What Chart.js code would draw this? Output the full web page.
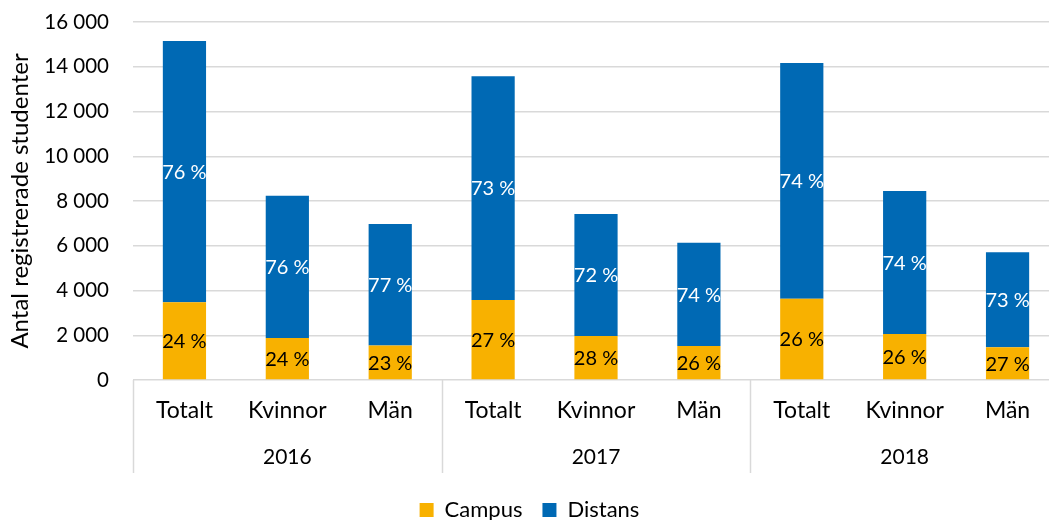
<!DOCTYPE html>
<html lang="sv">
<head>
<meta charset="utf-8">
<script src="https://cdn.jsdelivr.net/npm/chart.js@4/dist/chart.umd.min.js"></script>
<style>
  html, body { margin: 0; padding: 0; background: #fff; overflow: hidden; }
  #wrap { width: 1060px; height: 520px; position: relative; }
</style>
</head>
<body>
<div id="wrap"><canvas id="chart"></canvas></div>
<script>
// ── DATA ───────────────────────────────────────────────────────────────────

const categories = ['Totalt', 'Kvinnor', 'Män', 'Totalt', 'Kvinnor', 'Män', 'Totalt', 'Kvinnor', 'Män'];
const years      = ['2016', '2017', '2018'];

const campus  = [3480, 1880, 1540, 3580, 1970, 1520, 3630, 2060, 1460];
const distans = [11670, 6360, 5430, 10000, 5450, 4615, 10535, 6390, 4255];

const campusPct  = ['24 %', '24 %', '23 %', '27 %', '28 %', '26 %', '26 %', '26 %', '27 %'];
const distansPct = ['76 %', '76 %', '77 %', '73 %', '72 %', '74 %', '74 %', '74 %', '73 %'];

const yTicks = [0, 2000, 4000, 6000, 8000, 10000, 12000, 14000, 16000];

// ── STYLE ──────────────────────────────────────────────────────────────────

const COLORS = {
  campus:  '#F8B100',
  distans: '#0069B4',
  grid:    '#d9d9d9',
  text:    '#000000',
};
const FONT = 'Lato, "Open Sans", sans-serif';

const fmtThousands = v => String(v).replace(/\B(?=(\d{3})+(?!\d))/g, ' ');

// Percent labels centred in each stacked segment
const segmentLabels = {
  id: 'segmentLabels',
  afterDatasetsDraw(chart) {
    const ctx = chart.ctx;
    ctx.save();
    ctx.font = `20px ${FONT}`;
    ctx.textAlign = 'center';
    ctx.textBaseline = 'middle';
    chart.data.datasets.forEach((ds, di) => {
      const meta = chart.getDatasetMeta(di);
      ctx.fillStyle = ds.labelColor;
      meta.data.forEach((bar, i) => {
        const p = bar.getCenterPoint();
        ctx.fillText(ds.pctLabels[i], p.x, p.y + 1);
      });
    });
    ctx.restore();
  },
};

// Vertical separators between the year groups, below the plot area
const groupSeparators = {
  id: 'groupSeparators',
  afterDraw(chart) {
    const x = chart.scales.x;
    const x2 = chart.scales.x2;
    const step = x.getPixelForValue(1) - x.getPixelForValue(0);
    const per = categories.length / years.length;
    const ctx = chart.ctx;
    ctx.save();
    ctx.strokeStyle = COLORS.grid;
    ctx.lineWidth = 1.5;
    for (let g = 0; g <= years.length; g++) {
      const px = Math.round(x.getPixelForValue(g * per) - step / 2) + 0.5;
      ctx.beginPath();
      ctx.moveTo(px, chart.chartArea.bottom);
      ctx.lineTo(px, x2.top + 41);
      ctx.stroke();
    }
    ctx.restore();
  },
};

new Chart(document.getElementById('chart'), {
  type: 'bar',
  data: {
    labels: categories,
    datasets: [
      {
        label: 'Campus',
        data: campus,
        backgroundColor: COLORS.campus,
        pctLabels: campusPct,
        labelColor: '#000000',
        stack: 's',
      },
      {
        label: 'Distans',
        data: distans,
        backgroundColor: COLORS.distans,
        pctLabels: distansPct,
        labelColor: '#ffffff',
        stack: 's',
      },
    ],
  },
  options: {
    responsive: true,
    maintainAspectRatio: false,
    animation: false,
    categoryPercentage: 1,
    barPercentage: 0.42,
    layout: { padding: { top: 22, right: 1, left: 0, bottom: 0 } },
    plugins: {
      tooltip: { enabled: false },
      legend: {
        position: 'bottom',
        maxHeight: 41,
        labels: {
          color: COLORS.text,
          font: { family: FONT, size: 22 },
          boxWidth: 14,
          boxHeight: 14,
          padding: 20,
        },
      },
    },
    scales: {
      x: {
        stacked: true,
        grid: { display: false, drawTicks: false },
        border: { display: false },
        ticks: {
          color: COLORS.text,
          font: { family: FONT, size: 23 },
          padding: 17,
          autoSkip: false,
          maxRotation: 0,
        },
        afterFit: s => { s.height = 52; },
      },
      x2: {
        axis: 'x',
        type: 'category',
        position: 'bottom',
        labels: years,
        offset: true,
        weight: 1,
        grid: { display: false, drawTicks: false },
        border: { display: false },
        ticks: {
          color: COLORS.text,
          font: { family: FONT, size: 21 },
          padding: 13,
          maxRotation: 0,
        },
        afterFit: s => { s.height = 47; },
      },
      y: {
        stacked: true,
        min: 0,
        max: 16000,
        afterBuildTicks: s => { s.ticks = yTicks.map(v => ({ value: v })); },
        // tick marks kept invisible; their length sets the gap to the labels
        grid: { color: COLORS.grid, lineWidth: 1.5, drawTicks: true, tickLength: 24, tickColor: 'rgba(0,0,0,0)' },
        border: { display: false },
        ticks: {
          color: COLORS.text,
          font: { family: FONT, size: 20.5 },
          padding: 0,
          callback: v => fmtThousands(v),
        },
        title: {
          display: true,
          text: 'Antal registrerade studenter',
          color: COLORS.text,
          font: { family: FONT, size: 24 },
          padding: { top: 6, bottom: 0 },
        },
        afterFit: s => { s.width = 133; },
      },
    },
  },
  plugins: [segmentLabels, groupSeparators],
});
</script>
</body>
</html>
